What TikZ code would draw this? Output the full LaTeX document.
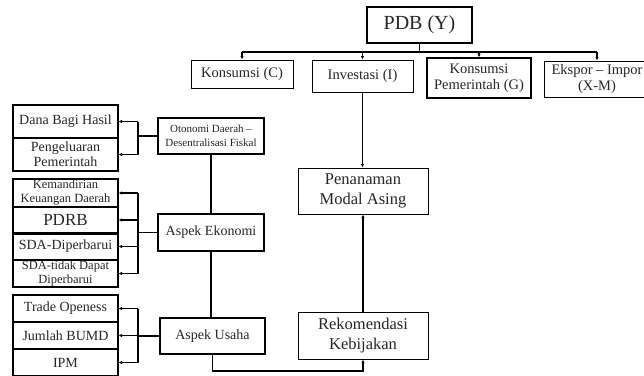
\documentclass[tikz,border=0pt]{standalone}
\usepackage{fontspec}
\setmainfont{Liberation Serif}
\usetikzlibrary{arrows.meta}
\begin{document}
\begin{tikzpicture}[x=1pt,y=-1pt,
  box/.style={draw, line width=1pt, align=center, inner sep=0pt, text=black!85},
  cell/.style={box, line width=1.3pt, minimum width=105pt},
  conn/.style={line width=1.5pt},
  arr/.style={conn, -{Latex[length=3.5pt,width=3.5pt]}},
  fbig/.style={font=\fontsize{20}{22}\selectfont},
  fhead/.style={font=\fontsize{14.5}{15.5}\selectfont},
  fmid/.style={font=\fontsize{16.5}{20}\selectfont},
  fn/.style={font=\fontsize{14}{15}\selectfont},
  fs/.style={font=\fontsize{12.5}{14}\selectfont},
  fxs/.style={font=\fontsize{11}{14}\selectfont}
]
\useasboundingbox (0,0) rectangle (644,375);
\clip (0,0) rectangle (644,375);

% top
\node[box, line width=1.6pt, minimum width=105pt, minimum height=36pt, fbig] (pdb) at (419.5,25) {PDB (Y)};
\node[box, minimum width=102pt, minimum height=28pt, fhead] (kc) at (242,74) {Konsumsi (C)};
\node[box, minimum width=101pt, minimum height=32pt, fhead] (inv) at (362.5,76) {Investasi (I)};
\node[box, line width=1.4pt, minimum width=104pt, minimum height=40pt, fhead] (kg) at (479,78) {Konsumsi\\Pemerintah (G)};
\node[box, minimum width=106pt, minimum height=36pt, fhead] (eks) at (597,79) {Ekspor -- Impor\\(X-M)};

\coordinate (busy) at (0,52);
\draw[conn] (pdb.south) -- (pdb.south |- busy);
\draw[conn] (kc.north |- busy) -- (eks.north |- busy);
\foreach \n in {kc,inv,kg,eks} \draw[arr] (\n.north |- busy) -- (\n.north);

% middle column
\node[box, minimum width=130pt, minimum height=46pt, fmid] (pen) at (363,191) {Penanaman\\Modal Asing};
\node[box, minimum width=130pt, minimum height=47pt, fmid] (rek) at (363,335.5) {Rekomendasi\\Kebijakan};
\draw[arr] (inv.south) -- (inv.south |- pen.north);
\draw[arr] (rek.north) -- (rek.north |- pen.south);

% aspect column
\node[box, line width=1.3pt, minimum width=106pt, minimum height=36pt, fxs] (oto) at (211,136) {Otonomi Daerah --\\Desentralisasi Fiskal};
\node[box, line width=1.3pt, minimum width=106pt, minimum height=37pt, fn] (aek) at (211,232.5) {Aspek Ekonomi};
\node[box, line width=1.3pt, minimum width=105pt, minimum height=36pt, fn] (aus) at (212.5,336) {Aspek Usaha};
\draw[conn] (oto.south) -- (oto.south |- aek.north);
\draw[conn] (aek.south) -- (aek.south |- aus.north);

% left groups
\node[cell, minimum height=33pt, fn] (dana) at (65.5,121.5) {Dana Bagi Hasil};
\node[cell, minimum height=33pt, fn] (peng) at (65.5,154.5) {Pengeluaran\\Pemerintah};

\node[cell, minimum height=28pt, fs] (kem) at (65.5,193) {Kemandirian\\Keuangan Daerah};
\node[cell, minimum height=26pt, font=\fontsize{17}{19}\selectfont] (pdrb) at (65.5,220) {PDRB};
\node[cell, minimum height=27pt, fn] (sdad) at (65.5,246.5) {SDA-Diperbarui};
\node[cell, minimum height=27pt, fs] (sdat) at (65.5,273.5) {SDA-tidak Dapat\\Diperbarui};
\draw[line width=2pt] (pdrb.south west) -- (pdrb.south east);

\node[cell, minimum height=27pt, fn] (trade) at (65.5,308.5) {Trade Openess};
\node[cell, minimum height=27pt, fn] (bumd) at (65.5,335.5) {Jumlah BUMD};
\node[cell, minimum height=27pt, fn] (ipm) at (65.5,362.5) {IPM};

% left connectors
\coordinate (jx) at (138,0);
\draw[conn] (oto.west) -- (oto.west -| jx);
\draw[conn] (dana.east -| jx) -- (peng.east -| jx);
\foreach \n in {dana,peng} \draw[arr] (\n.east -| jx) -- (\n.east);

\draw[conn] (aek.west) -- (aek.west -| jx);
\draw[conn] (kem.east -| jx) -- (sdat.east -| jx);
\foreach \n in {kem,pdrb,sdad,sdat} \draw[arr] (\n.east -| jx) -- (\n.east);

\draw[conn] (aus.west) -- (aus.west -| jx);
\draw[conn] (trade.east -| jx) -- (ipm.east -| jx);
\foreach \n in {trade,bumd,ipm} \draw[arr] (\n.east -| jx) -- (\n.east);

% bottom link
\coordinate (boty) at (0,371);
\draw[arr] (aus.south) -- (aus.south |- boty) -| (rek.south);
\end{tikzpicture}
\end{document}
